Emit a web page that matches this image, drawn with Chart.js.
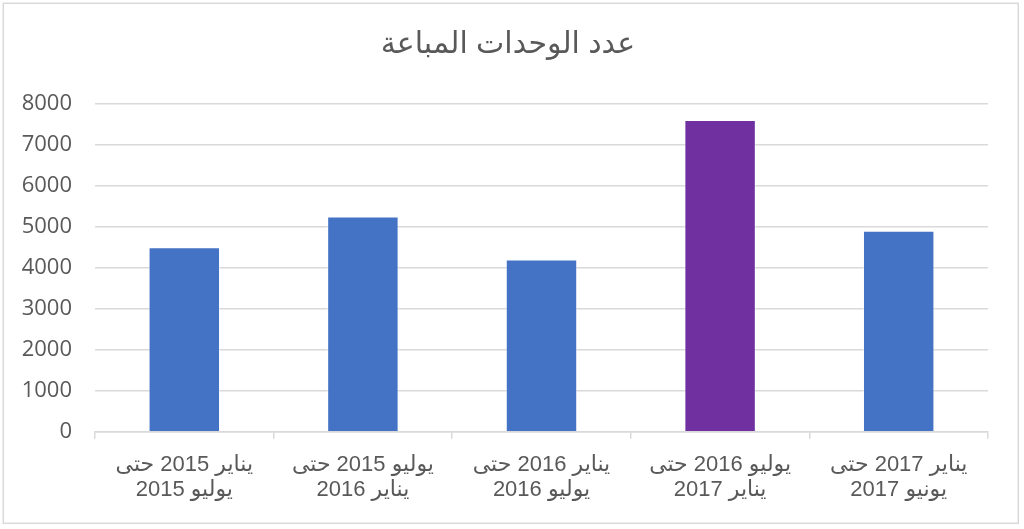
<!DOCTYPE html>
<html lang="ar">
<head>
<meta charset="utf-8">
<script src="https://cdn.jsdelivr.net/npm/chart.js@4.4.1/dist/chart.umd.min.js"></script>
<style>
	html, body { margin: 0; padding: 0; background: #fff; }
	#wrap { width: 1024px; height: 529px; }
</style>
</head>
<body>
<div id="wrap"><canvas id="sales" width="1024" height="529"></canvas></div>
<script>
const periodStart = ["يناير 2015 حتى", "يوليو 2015 حتى", "يناير 2016 حتى", "يوليو 2016 حتى", "يناير 2017 حتى"]
const periodEnd = ["يوليو 2015", "يناير 2016", "يوليو 2016", "يناير 2017", "يونيو 2017"]
const unitsSold = [4500, 5250, 4200, 7600, 4900]
const yTicks = [0, 1000, 2000, 3000, 4000, 5000, 6000, 7000, 8000]

const highlightIndex = 3
const gray = "#595959"
const lineGray = "#d9d9d9"
const arabicFont = "'Liberation Sans', 'DejaVu Sans', sans-serif"

const frame = {
	id: "frame",
	afterDraw: chart => {
		const ctx = chart.ctx
		ctx.save()
		ctx.strokeStyle = lineGray
		ctx.lineWidth = 1.5
		ctx.strokeRect(3.3, 3.3, 1015, 520)
		ctx.restore()
	}
}

new Chart(document.getElementById("sales"), {
	type: "bar",
	data: {
		labels: periodStart.map((s, i) => [s, periodEnd[i]]),
		datasets: [{
			label: "عدد الوحدات المباعة",
			data: unitsSold,
			backgroundColor: ctx => ctx.dataIndex == highlightIndex ? "#7030a0" : "#4472c4",
			borderColor: "rgba(255, 255, 255, 0.5)",
			borderWidth: 1,
			categoryPercentage: 1,
			barPercentage: 0.4
		}]
	},
	options: {
		responsive: false,
		animation: false,
		devicePixelRatio: 1,
		// right padding keeps the title centred where the original has it
		layout: { padding: { left: 0, right: 8, top: 0, bottom: 0 } },
		plugins: {
			legend: { display: false },
			tooltip: { enabled: false },
			title: {
				display: true,
				text: "عدد الوحدات المباعة",
				color: gray,
				font: { family: arabicFont, size: 30, weight: "normal", lineHeight: 1.1 },
				padding: { top: 28.5, bottom: 42.2 }
			}
		},
		scales: {
			x: {
				grid: { display: true, drawOnChartArea: false, drawTicks: true, tickLength: 7, color: lineGray, lineWidth: 1.5, offset: true },
				border: { display: true, color: lineGray, width: 1.5 },
				ticks: {
					color: gray,
					maxRotation: 0,
					autoSkip: false,
					padding: 13,
					font: { family: arabicFont, size: 22, lineHeight: 1.16 }
				},
				afterFit: scale => { scale.height = 529 - 431.7 }
			},
			y: {
				min: 0,
				max: 8000,
				afterBuildTicks: scale => { scale.ticks = yTicks.map(v => ({ value: v })) },
				grid: { color: lineGray, lineWidth: 1.5, drawTicks: false },
				border: { display: false },
				ticks: {
					color: gray,
					padding: 23,
					font: { family: "'Open Sans', sans-serif", size: 22 },
					callback: value => String(value)
				},
				afterFit: scale => { scale.width = 95 }
			},
			// empty spacer on the right so the plot ends where the original does
			spacer: {
				type: "linear",
				position: "right",
				display: true,
				grid: { display: false },
				border: { display: false },
				ticks: { display: false },
				afterFit: scale => { scale.width = 28 }
			}
		}
	},
	plugins: [frame]
})
</script>
</body>
</html>
